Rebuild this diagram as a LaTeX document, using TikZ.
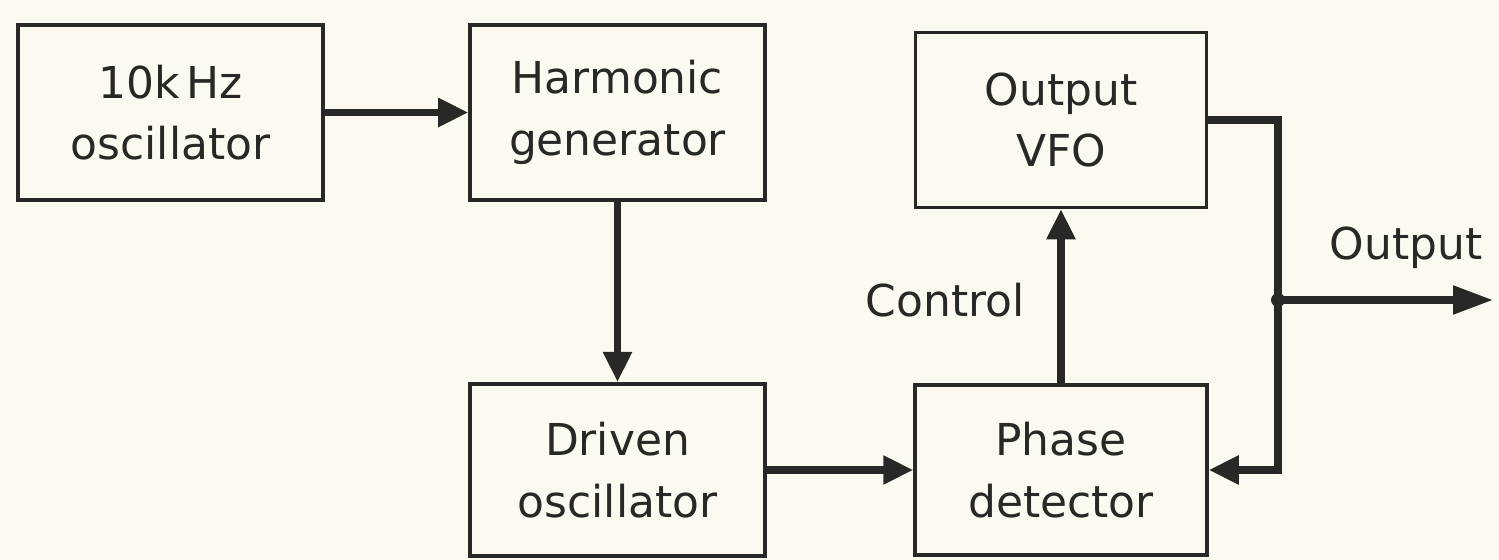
\documentclass[tikz,border=0pt]{standalone}
\usepackage{fontspec}
\setmainfont{DejaVu Sans}
\usepackage{xcolor}
\usepackage{tikz}
\usetikzlibrary{arrows.meta, positioning}
\definecolor{paper}{RGB}{252,250,240}
\definecolor{ink}{RGB}{40,40,38}

\begin{document}
\begin{tikzpicture}[
    block/.style={draw=ink, line width=2pt, rectangle, minimum width=5.9cm, minimum height=3.5cm, align=center, text=ink, font=\fontsize{25}{35}\selectfont},
    signal/.style={draw=ink, line width=4pt, line join=miter, -{Triangle[length=0.6cm,width=0.55cm]}},
    lbl/.style={text=ink, font=\fontsize{25}{35}\selectfont}
]
    \fill[paper] (0,0) rectangle (29.98,11.2);
    \useasboundingbox (0,0) rectangle (29.98,11.2);

    % reference chain
    \node[block, minimum width=6.1cm] (osc) at (3.41,8.95) {10k\,Hz\\oscillator};
    \node[block] (harm) at (12.35,8.95) {Harmonic\\generator};
    \node[block, minimum height=3.45cm] (drv) at (12.35,1.8) {Driven\\oscillator};

    % loop
    \node[block, minimum width=5.82cm] (vfo) at (21.22,8.8) {Output\\VFO};
    \node[block, minimum width=5.84cm, minimum height=3.4cm] (phase) at (21.22,1.8) {Phase\\detector};

    \coordinate (tap) at (25.56,5.2);
    \coordinate (ret) at (25.56,1.8);
    \coordinate (out) at (29.86,5.2);

    \draw[signal] (osc) -- (harm);
    \draw[signal] (harm) -- (drv);
    \draw[signal] (drv) -- (phase);
    \draw[signal] (phase) -- (vfo);
    \draw[signal] (vfo.east) -| (ret) -- (phase.east);
    \fill[ink] (tap) circle (0.14);
    \draw[signal, -{Triangle[length=0.8cm,width=0.55cm]}] (tap) -- (out);

    \node[lbl] (ctl) at (18.9,5.2) {Control};
    \node[lbl] (outlbl) at (28.12,6.24) {Output};
\end{tikzpicture}
\end{document}
